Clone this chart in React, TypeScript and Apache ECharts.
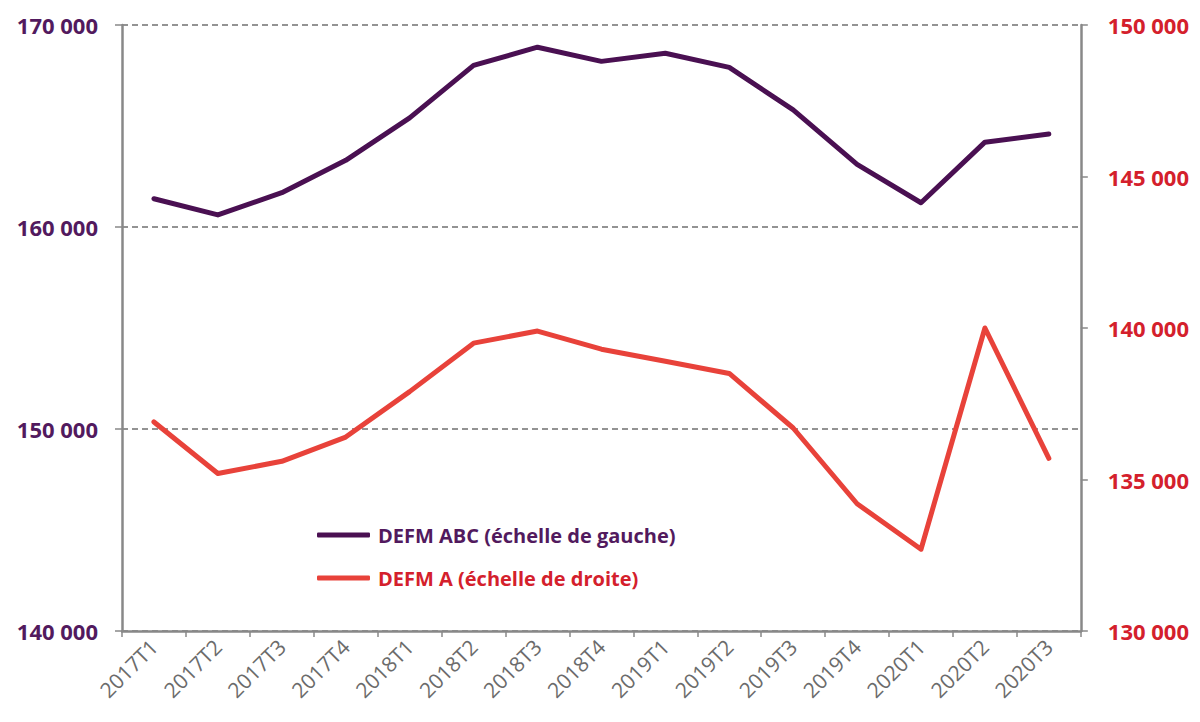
import React, { useEffect, useRef } from "react";
import * as echarts from "echarts";

const categories = [
  "2017T1", "2017T2", "2017T3", "2017T4",
  "2018T1", "2018T2", "2018T3", "2018T4",
  "2019T1", "2019T2", "2019T3", "2019T4",
  "2020T1", "2020T2", "2020T3",
];

const defmABC = [
  161400, 160600, 161700, 163300,
  165400, 168000, 168900, 168200,
  168600, 167900, 165800, 163100,
  161200, 164200, 164600,
];

const defmA = [
  136900, 135200, 135600, 136400,
  137900, 139500, 139900, 139300,
  138900, 138500, 136700, 134200,
  132700, 140000, 135700,
];

const leftTicks = { min: 140000, max: 170000, interval: 10000 };
const rightTicks = { min: 130000, max: 150000, interval: 5000 };

const PURPLE = "#4a1052";
const PURPLE_TEXT = "#521a5e";
const RED = "#e8423a";
const RED_TEXT = "#d4202c";
const AXIS = "#888888";
const FONT = "'Open Sans', Lato, sans-serif";

const fmt = (v: number) =>
  String(Math.round(v)).replace(/\B(?=(\d{3})+(?!\d))/g, " ");

export default function App() {
  const ref = useRef<HTMLDivElement>(null);

  useEffect(() => {
    if (!ref.current) return;
    const chart = echarts.init(ref.current, undefined, { renderer: "svg" });
    chart.setOption({
      animation: false,
      backgroundColor: "#ffffff",
      grid: { left: 114, right: 109, top: 17, bottom: 83, containLabel: false },
      legend: {
        orient: "vertical",
        left: 309,
        top: 517,
        padding: 0,
        itemWidth: 53,
        itemHeight: 5,
        itemGap: 23,
        icon: "roundRect",
        textStyle: { fontFamily: FONT, fontWeight: "bold", fontSize: 20, padding: [0, 0, 0, 3] },
        data: [
          { name: "DEFM ABC (échelle de gauche)", textStyle: { color: PURPLE_TEXT } },
          { name: "DEFM A (échelle de droite)", textStyle: { color: RED_TEXT } },
        ],
      },
      xAxis: {
        type: "category",
        data: categories,
        boundaryGap: true,
        axisLine: { lineStyle: { color: AXIS, width: 2.5 } },
        axisTick: { show: true, alignWithLabel: false, length: 6, lineStyle: { color: AXIS, width: 1.5 } },
        axisLabel: {
          rotate: 45,
          interval: 0,
          color: "#6b6b6b",
          fontFamily: FONT,
          fontSize: 21,
          margin: 12,
        },
        splitLine: { show: false },
      },
      yAxis: [
        {
          type: "value",
          position: "left",
          min: leftTicks.min,
          max: leftTicks.max,
          interval: leftTicks.interval,
          axisLine: { show: true, lineStyle: { color: AXIS, width: 2.5 } },
          axisTick: { show: true, length: 7, lineStyle: { color: AXIS, width: 1.5 } },
          axisLabel: {
            color: PURPLE_TEXT,
            fontFamily: FONT,
            fontWeight: "bold",
            fontSize: 22,
            margin: 24,
            formatter: fmt,
          },
          splitLine: { show: true, lineStyle: { color: "#707070", type: [6, 4], width: 1.5 } },
        },
        {
          type: "value",
          position: "right",
          min: rightTicks.min,
          max: rightTicks.max,
          interval: rightTicks.interval,
          axisLine: { show: true, lineStyle: { color: AXIS, width: 2.5 } },
          axisTick: { show: true, length: 7, lineStyle: { color: AXIS, width: 1.5 } },
          axisLabel: {
            color: RED_TEXT,
            fontFamily: FONT,
            fontWeight: "bold",
            fontSize: 22,
            margin: 27,
            formatter: fmt,
          },
          splitLine: { show: false },
        },
      ],
      series: [
        {
          name: "DEFM ABC (échelle de gauche)",
          type: "line",
          yAxisIndex: 0,
          data: defmABC,
          showSymbol: false,
          symbol: "none",
          itemStyle: { color: PURPLE },
          lineStyle: { color: PURPLE, width: 5, join: "round", cap: "round" },
        },
        {
          name: "DEFM A (échelle de droite)",
          type: "line",
          yAxisIndex: 1,
          data: defmA,
          showSymbol: false,
          symbol: "none",
          itemStyle: { color: RED },
          lineStyle: { color: RED, width: 5, join: "round", cap: "round" },
        },
      ],
    });
    return () => chart.dispose();
  }, []);

  return <div ref={ref} style={{ width: 1184, height: 706 }} />;
}
